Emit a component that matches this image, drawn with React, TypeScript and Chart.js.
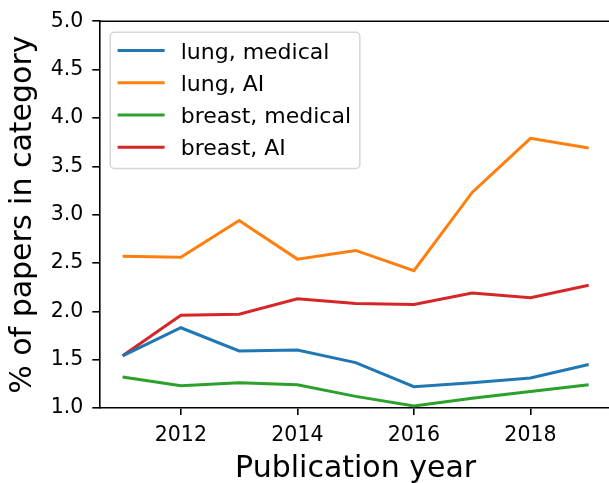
import React, { useEffect, useRef } from "react";
import { Chart, registerables } from "chart.js";

Chart.register(...registerables);

const YEARS = [2011, 2012, 2013, 2014, 2015, 2016, 2017, 2018, 2019];
const LUNG_MEDICAL = [1.54, 1.83, 1.59, 1.6, 1.47, 1.22, 1.26, 1.31, 1.45];
const LUNG_AI = [2.57, 2.56, 2.94, 2.54, 2.63, 2.42, 3.23, 3.79, 3.69];
const BREAST_MEDICAL = [1.32, 1.23, 1.26, 1.24, 1.12, 1.02, 1.1, 1.17, 1.24];
const BREAST_AI = [1.54, 1.96, 1.97, 2.13, 2.08, 2.07, 2.19, 2.14, 2.27];
const SERIES_LABELS = ["lung, medical", "lung, AI", "breast, medical", "breast, AI"];
const X_TICKS = [2012, 2014, 2016, 2018];
const Y_TICKS = [1.0, 1.5, 2.0, 2.5, 3.0, 3.5, 4.0, 4.5, 5.0];
const X_TITLE = "Publication year";
const Y_TITLE = "% of papers in category";

const COLORS = ["#1f77b4", "#ff7f0e", "#2ca02c", "#d62728"];
const FONT = "'DejaVu Sans', sans-serif";

const framePlugin = {
  id: "frame",
  afterDatasetsDraw(chart: any) {
    const { ctx, chartArea } = chart;
    ctx.save();
    ctx.strokeStyle = "#000";
    ctx.lineWidth = 1.6;
    ctx.beginPath();
    ctx.moveTo(chartArea.left, chartArea.top);
    ctx.lineTo(chartArea.right, chartArea.top);
    ctx.lineTo(chartArea.right, chartArea.bottom);
    ctx.stroke();
    ctx.restore();
  },
};

const mplLegend = {
  id: "mplLegend",
  afterDraw(chart: any) {
    const { ctx, chartArea } = chart;
    const fs = 22;
    const boxLeft = chartArea.left + 0.5 * fs;
    const boxTop = chartArea.top + 0.5 * fs;
    const pad = 0.4 * fs;
    const rowH = 32.2;
    const handleLen = 2.0 * fs;
    const textGap = 0.8 * fs;
    ctx.save();
    ctx.font = `${fs}px ${FONT}`;
    const datasets = chart.data.datasets;
    let maxW = 0;
    datasets.forEach((d: any) => {
      maxW = Math.max(maxW, ctx.measureText(d.label).width);
    });
    const boxW = pad + handleLen + textGap + maxW + pad;
    const boxH = pad * 2 + rowH * datasets.length - (rowH - 22);
    const r = 4;
    ctx.beginPath();
    ctx.moveTo(boxLeft + r, boxTop);
    ctx.arcTo(boxLeft + boxW, boxTop, boxLeft + boxW, boxTop + boxH, r);
    ctx.arcTo(boxLeft + boxW, boxTop + boxH, boxLeft, boxTop + boxH, r);
    ctx.arcTo(boxLeft, boxTop + boxH, boxLeft, boxTop, r);
    ctx.arcTo(boxLeft, boxTop, boxLeft + boxW, boxTop, r);
    ctx.closePath();
    ctx.fillStyle = "rgba(255,255,255,0.8)";
    ctx.fill();
    ctx.strokeStyle = "#d6d6d6";
    ctx.lineWidth = 1.5;
    ctx.stroke();
    datasets.forEach((d: any, i: number) => {
      const cy = boxTop + pad + 9.5 + rowH * i;
      const hx = boxLeft + pad;
      ctx.strokeStyle = d.borderColor;
      ctx.lineWidth = 3;
      ctx.lineCap = "square";
      ctx.beginPath();
      ctx.moveTo(hx, cy);
      ctx.lineTo(hx + handleLen, cy);
      ctx.stroke();
      ctx.fillStyle = "#000";
      ctx.textBaseline = "alphabetic";
      ctx.textAlign = "left";
      ctx.fillText(d.label, hx + handleLen + textGap, cy + 0.36 * fs);
    });
    ctx.restore();
  },
};

export default function App() {
  const ref = useRef<HTMLCanvasElement | null>(null);
  useEffect(() => {
    if (!ref.current) return;
    const seriesValues = [LUNG_MEDICAL, LUNG_AI, BREAST_MEDICAL, BREAST_AI];
    const chart = new Chart(ref.current, {
      type: "line",
      data: {
        datasets: seriesValues.map((vals, i) => ({
          label: SERIES_LABELS[i],
          data: YEARS.map((y, j) => ({ x: y, y: vals[j] })),
          borderColor: COLORS[i],
          backgroundColor: COLORS[i],
          borderWidth: 3,
          pointRadius: 0,
          tension: 0,
          fill: false,
        })),
      },
      options: {
        responsive: false,
        animation: false,
        devicePixelRatio: 1,
        layout: { padding: { top: 19, right: 0, left: 0, bottom: 0 } },
        plugins: {
          legend: { display: false },
          tooltip: { enabled: false },
        },
        scales: {
          x: {
            type: "linear",
            min: 2010.6,
            max: 2019.4,
            afterBuildTicks: (scale: any) => {
              scale.ticks = X_TICKS.map((v) => ({ value: v }));
            },
            afterFit: (scale: any) => {
              scale.height = 75;
            },
            grid: {
              drawOnChartArea: false,
              drawTicks: true,
              tickLength: 7,
              color: "#000",
              lineWidth: 1.6,
            },
            border: { display: true, color: "#000", width: 1.6 },
            ticks: {
              color: "#000",
              font: { family: FONT, size: 20.5 },
              padding: 8,
              maxRotation: 0,
              callback: (v: any) => String(v),
            },
            title: {
              display: true,
              text: X_TITLE,
              color: "#000",
              font: { family: FONT, size: 30, lineHeight: 0.95 },
              padding: { top: 0, bottom: 0 },
            },
          },
          y: {
            type: "linear",
            min: 1,
            max: 5,
            afterBuildTicks: (scale: any) => {
              scale.ticks = Y_TICKS.map((v) => ({ value: v }));
            },
            afterFit: (scale: any) => {
              scale.width = 99.3;
            },
            grid: {
              drawOnChartArea: false,
              drawTicks: true,
              tickLength: 7,
              color: "#000",
              lineWidth: 1.6,
            },
            border: { display: true, color: "#000", width: 1.6 },
            ticks: {
              color: "#000",
              font: { family: FONT, size: 20.5 },
              padding: 9,
              callback: (v: any) => Number(v).toFixed(1),
            },
            title: {
              display: true,
              text: Y_TITLE,
              color: "#000",
              font: { family: FONT, size: 30 },
              padding: { top: 5, bottom: 0 },
            },
          },
        },
      },
      plugins: [framePlugin, mplLegend],
    } as any);
    return () => chart.destroy();
  }, []);
  return (
    <div
      style={{
        position: "fixed",
        left: 0,
        top: 0,
        width: 609,
        height: 483,
        overflow: "hidden",
        background: "#fff",
      }}
    >
      <canvas ref={ref} width={612} height={483} style={{ display: "block" }} />
    </div>
  );
}
